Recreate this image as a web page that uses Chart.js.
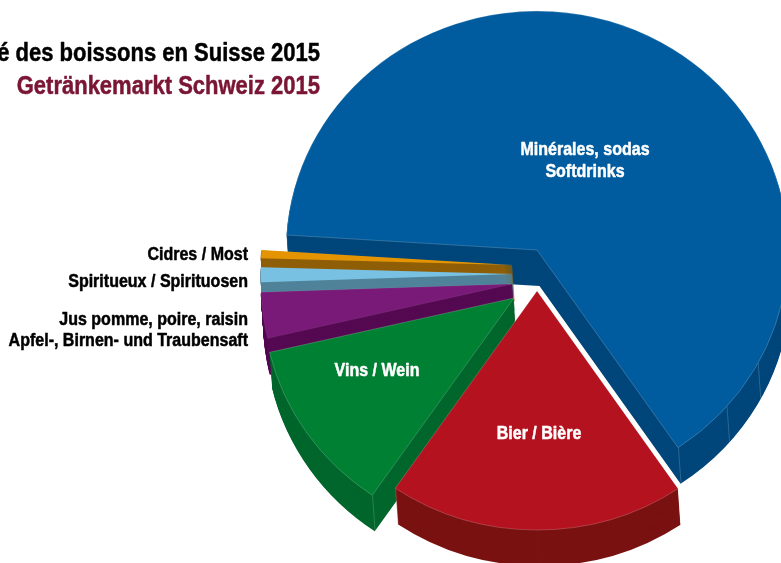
<!DOCTYPE html>
<html>
<head>
<meta charset="utf-8">
<title>Getränkemarkt Schweiz 2015</title>
<script src="https://cdn.jsdelivr.net/npm/chart.js@4"></script>
<style>
  html, body { margin: 0; padding: 0; background: #fff; overflow: hidden; width: 781px; height: 563px; }
  canvas { position: absolute; left: 0; top: 0; }
</style>
</head>
<body>
<canvas id="grafico" width="1074" height="620"></canvas>
<script>
  var categorias = ['Minérales, sodas / Softdrinks', 'Bier / Bière', 'Vins / Wein', 'Jus pomme, poire, raisin', 'Spiritueux / Spirituosen', 'Cidres / Most'];
  var valores = [64.5, 19.05, 11.8, 3.1, 1.0, 0.55];
  var coresTopo = ['#005c9e', '#b5121f', '#008033', '#7a1a78', '#78c1e3', '#e49400'];
  var coresLado = ['#00467a', '#7a1212', '#00662b', '#550a52', '#50839a', '#8f5f08'];
  var coresBorda = ['rgba(255,255,255,0.28)', 'rgba(255,255,255,0.28)', 'rgba(255,255,255,0.28)', 'rgba(255,255,255,0.1)', 'rgba(255,255,255,0.04)', 'rgba(255,255,255,0.04)'];
  // fatias finas precisam de borda na parede, senao a ponta some
  var larguraLado = [0, 0, 0, 1, 1, 1];

  // deslocamento de cada fatia e perspectiva (a pizza e levemente achatada)
  var deslocX = [0, 0, -23, -25, -25, -25];
  var deslocY = [0, 41, 48, 34, 24, 15];
  var ordemDesenho = [0, 5, 4, 3, 2, 1];
  var raio = 250, escalaX = 251 / 250, escalaY = 239 / 250;
  var alturaLado = 36, inclinacaoLado = 2.5;

  // emendas claras na parede de cada fatia (graus a partir do topo)
  var emendas = [[145.7, 130.8, 118.2, 273.6], [145.7, 214.3], [214.3], [], [], []];

  var tituloLinhas = ['Marché des boissons en Suisse 2015', 'Getränkemarkt Schweiz 2015'];
  var rotulosFora = ['Cidres / Most', 'Spiritueux / Spirituosen', 'Jus pomme, poire, raisin', 'Apfel-, Birnen- und Traubensaft'];
  var rotulosForaY = [260, 287, 325, 346];
  var rotulosDentro = ['Minérales, sodas', 'Softdrinks', 'Vins / Wein', 'Bier / Bière'];
  var rotulosDentroX = [585, 585, 377, 539];
  var rotulosDentroY = [155, 177, 376, 439];

  var fonte = '"Liberation Sans", sans-serif';

  function desenhaArco(ctx, arco, i, dx, dy, cor, borda, largura) {
    var original = arco.options;
    arco.options = Object.create(original);
    arco.options.backgroundColor = cor;
    arco.options.borderColor = borda;
    arco.options.borderWidth = largura;
    ctx.save();
    ctx.translate(arco.x + deslocX[i] + dx, arco.y + deslocY[i] + dy);
    ctx.scale(escalaX, escalaY);
    ctx.translate(-arco.x, -arco.y);
    arco.draw(ctx);
    ctx.restore();
    arco.options = original;
  }

  // so ha Liberation Sans normal, entao a fonte condensada sai apertando o x
  function texto(ctx, t, x, y, aperto) {
    ctx.save();
    ctx.translate(x, y);
    ctx.scale(aperto, 1);
    ctx.strokeText(t, 0, 0);
    ctx.fillText(t, 0, 0);
    ctx.restore();
  }

  var pizza3d = {
    id: 'pizza3d',
    beforeDatasetDraw: function (chart, args) {
      var ctx = chart.ctx;
      ordemDesenho.forEach(function (i) {
        var arco = args.meta.data[i];
        for (var d = alturaLado; d > 0; d--) {
          desenhaArco(ctx, arco, i, inclinacaoLado * d / alturaLado, d, coresLado[i], coresLado[i], larguraLado[i]);
        }
        emendas[i].forEach(function (g) {
          var a = g * Math.PI / 180;
          var x = arco.x + deslocX[i] + Math.sin(a) * raio * escalaX;
          var y = arco.y + deslocY[i] - Math.cos(a) * raio * escalaY;
          ctx.strokeStyle = 'rgba(255,255,255,0.22)';
          ctx.lineWidth = 0.8;
          ctx.beginPath();
          ctx.moveTo(x, y);
          ctx.lineTo(x + inclinacaoLado, y + alturaLado - 1);
          ctx.stroke();
        });
        desenhaArco(ctx, arco, i, 0, 0, coresTopo[i], coresBorda[i], 0.7);
      });
      return false;
    },
    afterDraw: function (chart) {
      var ctx = chart.ctx;
      ctx.save();
      ctx.textAlign = 'right';
      ctx.textBaseline = 'alphabetic';
      ctx.lineWidth = 0.5;
      ctx.lineJoin = 'round';
      ctx.font = 'bold 25px ' + fonte;
      ctx.fillStyle = ctx.strokeStyle = '#000';
      texto(ctx, tituloLinhas[0], 320, 61, 0.88);
      ctx.fillStyle = ctx.strokeStyle = '#7a1535';
      texto(ctx, tituloLinhas[1], 320, 94, 0.88);
      ctx.font = 'bold 18px ' + fonte;
      ctx.fillStyle = ctx.strokeStyle = '#000';
      rotulosFora.forEach(function (t, i) { texto(ctx, t, 248, rotulosForaY[i], 0.89); });
      ctx.textAlign = 'center';
      ctx.fillStyle = ctx.strokeStyle = '#fff';
      rotulosDentro.forEach(function (t, i) { texto(ctx, t, rotulosDentroX[i], rotulosDentroY[i], 0.89); });
      ctx.restore();
    }
  };

  new Chart(document.getElementById('grafico'), {
    type: 'pie',
    data: {
      labels: categorias,
      datasets: [{ data: valores, backgroundColor: coresTopo, borderWidth: 0 }]
    },
    options: {
      responsive: false,
      animation: false,
      rotation: 273.6,
      radius: raio,
      layout: { padding: { top: 0, left: 0, right: 0, bottom: 120 } },
      plugins: { legend: { display: false }, tooltip: { enabled: false } }
    },
    plugins: [pizza3d]
  });
</script>
</body>
</html>
